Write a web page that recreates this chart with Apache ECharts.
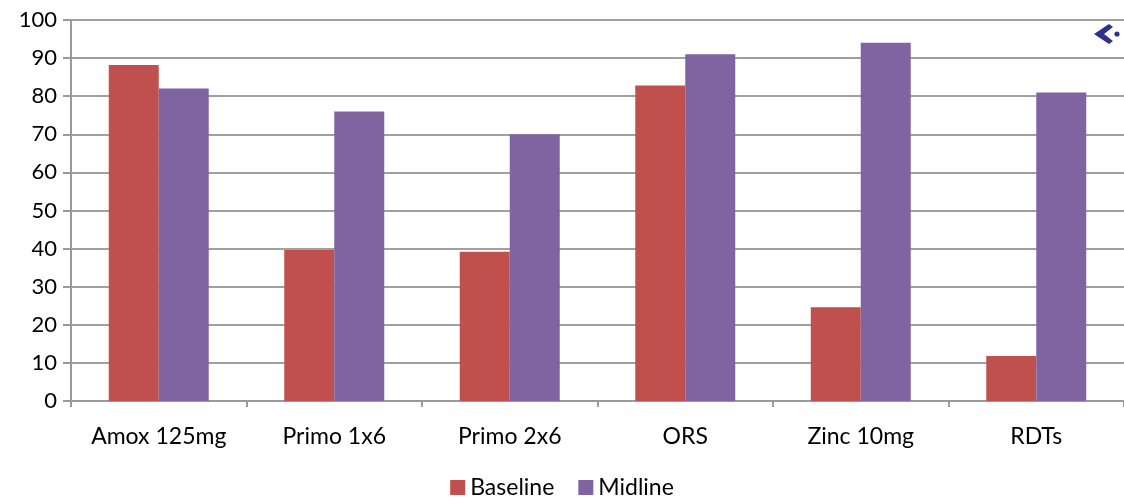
<!DOCTYPE html>
<html>
<head>
<meta charset="utf-8">
<style>
  html, body { margin: 0; padding: 0; background: #ffffff; }
  #chart { width: 1124px; height: 504px; }
</style>
<script src="https://cdn.jsdelivr.net/npm/echarts@6/dist/echarts.min.js"></script>
</head>
<body>
<div id="chart"></div>
<script>
// Commodity availability by product, baseline vs midline (%)
const categories = ['Amox 125mg', 'Primo 1x6', 'Primo 2x6', 'ORS', 'Zinc 10mg', 'RDTs'];
const baseline = [88.2, 39.6, 39.2, 82.8, 24.6, 11.8];
const midline = [82, 76, 70, 91, 94, 81];
const yTicks = { min: 0, max: 100, interval: 10 };

const FONT = 'Lato, "Open Sans", sans-serif';
const chart = echarts.init(document.getElementById('chart'), null, { renderer: 'canvas' });

chart.setOption({
  animation: false,
  textStyle: { fontFamily: FONT },
  grid: { left: 71, right: 0, top: 20, bottom: 103, containLabel: false },
  legend: {
    bottom: 0,
    left: 'center',
    itemWidth: 15,
    itemHeight: 15,
    itemGap: 24,
    icon: 'rect',
    textStyle: { fontSize: 23, color: '#000', fontFamily: FONT },
    data: ['Baseline', 'Midline']
  },
  xAxis: {
    type: 'category',
    data: categories,
    axisLine: { lineStyle: { color: '#9a9a9a', width: 2 } },
    axisTick: { show: true, interval: 0, length: 6, lineStyle: { color: '#9a9a9a', width: 2 } },
    axisLabel: { interval: 0, hideOverlap: false, fontSize: 23, color: '#000', margin: 24, fontFamily: FONT }
  },
  yAxis: {
    type: 'value',
    min: yTicks.min,
    max: yTicks.max,
    interval: yTicks.interval,
    axisLine: { show: true, lineStyle: { color: '#9a9a9a', width: 2 } },
    axisTick: { show: true, length: 8, lineStyle: { color: '#9a9a9a', width: 2 } },
    splitLine: { lineStyle: { color: '#a0a0a0', width: 2 } },
    axisLabel: { fontSize: 22, color: '#000', margin: 14, fontFamily: FONT }
  },
  series: [
    {
      name: 'Baseline',
      type: 'bar',
      data: baseline,
      barWidth: 50,
      barGap: '0%',
      itemStyle: { color: '#c0504d' }
    },
    {
      name: 'Midline',
      type: 'bar',
      data: midline,
      barWidth: 50,
      barGap: '0%',
      itemStyle: { color: '#8064a2' }
    }
  ],
  graphic: [
    {
      type: 'polygon',
      shape: { points: [[1094, 34], [1109, 24], [1113, 27], [1104, 34], [1113, 41], [1109, 44]] },
      style: { fill: '#2e3192' }
    },
    {
      type: 'circle',
      shape: { cx: 1117, cy: 34, r: 2.6 },
      style: { fill: '#2e3192' }
    }
  ]
});
</script>
</body>
</html>
